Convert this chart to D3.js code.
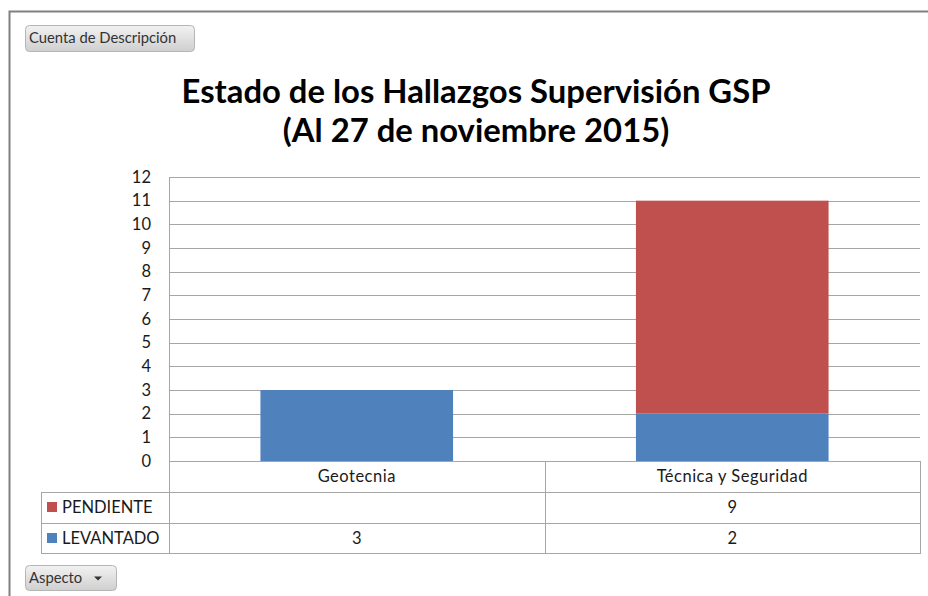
<!DOCTYPE html>
<html>
<head>
<meta charset="utf-8">
<script src="https://cdn.jsdelivr.net/npm/d3@7"></script>
<style>
  body { margin: 0; background: #fff; }
  text { font-family: Lato, "Open Sans", sans-serif; fill: #1a1a1a; }
</style>
</head>
<body>
<svg id="chart" width="928" height="596"></svg>
<script>
// chart data
const categories = ['Geotecnia', 'Técnica y Seguridad'];
const levantado = [3, 2];
const pendiente = [null, 9];
const yTicks = [0, 1, 2, 3, 4, 5, 6, 7, 8, 9, 10, 11, 12];
const seriesNames = ['PENDIENTE', 'LEVANTADO'];
const seriesColors = { LEVANTADO: '#4F81BD', PENDIENTE: '#C0504D' };

var svg = d3.select('#chart');
var gridColor = '#a6a6a6';

// outer pivot frame
svg.append('rect')
  .attr('x', 9.5).attr('y', 11.5)
  .attr('width', 940).attr('height', 600)
  .attr('fill', 'none').attr('stroke', '#808080').attr('stroke-width', 2);

// gradient for field buttons
var defs = svg.append('defs');
var grad = defs.append('linearGradient').attr('id', 'btn').attr('x1', 0).attr('y1', 0).attr('x2', 0).attr('y2', 1);
grad.append('stop').attr('offset', '0%').attr('stop-color', '#f2f2f2');
grad.append('stop').attr('offset', '100%').attr('stop-color', '#cfcfcf');

function fieldButton(x, y, w, h, label, arrow) {
  var g = svg.append('g').attr('transform', 'translate(' + x + ',' + y + ')');
  g.append('rect').attr('x', 0.5).attr('y', 0.5).attr('width', w).attr('height', h)
    .attr('rx', 4).attr('fill', 'url(#btn)').attr('stroke', '#b5b5b5');
  g.append('text').attr('x', 4).attr('y', h / 2 + 5)
    .style('font-size', '14.8px').style('fill', '#333').text(label);
  if (arrow) {
    g.append('path').attr('d', 'M' + (w - 22) + ',' + (h / 2 - 1) + 'h8l-4,4z').attr('fill', '#333');
  }
}
fieldButton(25, 25, 169, 26, 'Cuenta de Descripción', false);
fieldButton(25, 565, 91, 25, 'Aspecto', true);

// title
var title = svg.append('text').attr('text-anchor', 'middle')
  .style('font-size', '32.8px').style('font-weight', 'bold').style('fill', '#000');
title.append('tspan').attr('x', 476).attr('y', 103).text('Estado de los Hallazgos Supervisión GSP');
title.append('tspan').attr('x', 476).attr('y', 142).text('(Al 27 de noviembre 2015)');

// scales
var plotL = 169, plotR = 920, plotT = 177, plotB = 461;
var x = d3.scaleBand().domain(categories).range([plotL, plotR]).padding(0);
var y = d3.scaleLinear().domain([0, 12]).range([plotB, plotT]);
var barW = x.bandwidth() * 0.513;

// gridlines
svg.append('g').selectAll('line').data(yTicks).join('line')
  .attr('x1', plotL).attr('x2', plotR)
  .attr('y1', d => Math.round(y(d)) + 0.5).attr('y2', d => Math.round(y(d)) + 0.5)
  .attr('stroke', gridColor);

// y axis labels
var yAxis = svg.append('g').attr('transform', 'translate(' + plotL + ',0)')
  .call(d3.axisLeft(y).tickValues(yTicks).tickSize(0).tickPadding(18));
yAxis.select('.domain').remove();
yAxis.selectAll('text').style('font-size', '16.5px').style('font-family', 'Lato, sans-serif').attr('fill', '#1a1a1a');

// stacked bars
var rows = categories.map((c, i) => ({ cat: c, LEVANTADO: levantado[i] || 0, PENDIENTE: pendiente[i] || 0 }));
var stack = d3.stack().keys(['LEVANTADO', 'PENDIENTE'])(rows);
svg.append('g').selectAll('g').data(stack).join('g')
  .attr('fill', d => seriesColors[d.key])
  .selectAll('rect').data(d => d).join('rect')
  .attr('x', d => x(d.data.cat) + (x.bandwidth() - barW) / 2)
  .attr('width', barW)
  .attr('y', d => y(d[1]))
  .attr('height', d => y(d[0]) - y(d[1]));

// data table under the plot
var rowH = 31;
var tableLeft = 41;
var lines = svg.append('g').attr('stroke', gridColor).attr('shape-rendering', 'crispEdges');
lines.append('line').attr('x1', plotL).attr('x2', plotR).attr('y1', plotB + 0.5).attr('y2', plotB + 0.5);
[1, 2, 3].forEach(function(r) {
  var yy = Math.round(plotB + r * rowH - (r == 3 ? 1 : 0)) + 0.5;
  lines.append('line').attr('x1', tableLeft).attr('x2', plotR).attr('y1', yy).attr('y2', yy);
});
var tableBottom = plotB + 3 * rowH - 1;
lines.append('line').attr('x1', plotL + 0.5).attr('x2', plotL + 0.5).attr('y1', plotT).attr('y2', tableBottom + 1);
lines.append('line').attr('x1', tableLeft + 0.5).attr('x2', tableLeft + 0.5).attr('y1', plotB + rowH).attr('y2', tableBottom + 1);
categories.forEach(function(c) {
  var xx = Math.round(x(c) + x.bandwidth()) + 0.5;
  lines.append('line').attr('x1', xx).attr('x2', xx).attr('y1', plotB).attr('y2', tableBottom + 1);
});

// category header row
svg.append('g').selectAll('text').data(categories).join('text')
  .attr('x', d => x(d) + x.bandwidth() / 2).attr('y', plotB + 21)
  .attr('text-anchor', 'middle').style('font-size', '16.5px').style('letter-spacing', '0.5px').text(d => d);

// series rows
var seriesVals = { PENDIENTE: pendiente, LEVANTADO: levantado };
seriesNames.forEach(function(s, r) {
  var ry = plotB + rowH * (r + 1);
  svg.append('rect').attr('x', 47).attr('y', ry + 10).attr('width', 10).attr('height', 10)
    .attr('fill', seriesColors[s]);
  svg.append('text').attr('x', 62).attr('y', ry + 21).style('font-size', '16.5px').text(s);
  svg.append('g').selectAll('text').data(categories).join('text')
    .attr('x', d => x(d) + x.bandwidth() / 2).attr('y', ry + 21)
    .attr('text-anchor', 'middle').style('font-size', '16.5px')
    .text((d, i) => seriesVals[s][i] == null ? '' : seriesVals[s][i]);
});
</script>
</body>
</html>
